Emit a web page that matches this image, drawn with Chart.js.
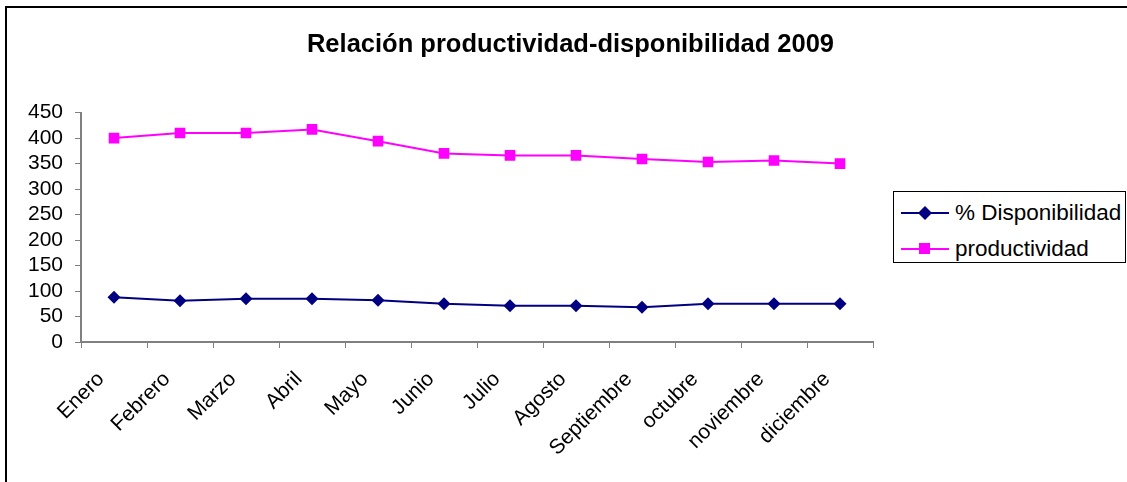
<!DOCTYPE html>
<html>
<head>
<meta charset="utf-8">
<script src="https://cdn.jsdelivr.net/npm/chart.js@4/dist/chart.umd.min.js"></script>
<style>
    body { margin: 0; background: #fff; font-family: "Liberation Sans", Arial, sans-serif; }
    #wrap { position: relative; width: 1127px; height: 482px; overflow: hidden; }
    #frame { position: absolute; left: 5px; top: 6px; width: 1200px; height: 600px; border: 2px solid #000; box-sizing: border-box; }
    #legend { position: absolute; left: 893px; top: 191px; width: 233px; height: 72px; border: 1px solid #000; box-sizing: border-box; background: #fff; }
    .legend-item { position: absolute; left: 7px; height: 20px; display: flex; align-items: center; font-size: 22.5px; color: #000; white-space: nowrap; }
    .legend-item svg { margin-right: 6px; flex: none; }
</style>
</head>
<body>
<div id="wrap">
    <canvas id="chart" width="1127" height="482"></canvas>
    <div id="frame"></div>
    <div id="legend"></div>
</div>
<script>
const months = ['Enero', 'Febrero', 'Marzo', 'Abril', 'Mayo', 'Junio', 'Julio', 'Agosto', 'Septiembre', 'octubre', 'noviembre', 'diciembre'];
const disponibilidad = [88, 81, 85, 85, 82, 75, 71, 71, 68, 75, 75, 75];
const productividad = [400, 410, 410, 417, 394, 370, 366, 366, 359, 353, 356, 350];
const yTicks = [0, 50, 100, 150, 200, 250, 300, 350, 400, 450];

const seriesNames = ['% Disponibilidad', 'productividad'];
const seriesColors = ['#000080', '#FF00FF'];
const seriesMarkers = ['rectRot', 'rect'];

const FONT = '"Liberation Sans", Arial, sans-serif';

const ctx = document.getElementById('chart').getContext('2d');

new Chart(ctx, {
    type: 'line',
    data: {
        labels: months,
        datasets: [
            {
                label: seriesNames[0],
                data: disponibilidad,
                borderColor: seriesColors[0],
                backgroundColor: seriesColors[0],
                borderWidth: 2,
                tension: 0,
                pointStyle: seriesMarkers[0],
                pointRadius: 6.5,
                pointBorderWidth: 0
            },
            {
                label: seriesNames[1],
                data: productividad,
                borderColor: seriesColors[1],
                backgroundColor: seriesColors[1],
                borderWidth: 2,
                tension: 0,
                pointStyle: seriesMarkers[1],
                pointRadius: 7.5,
                pointBorderWidth: 0
            }
        ]
    },
    options: {
        responsive: false,
        animation: false,
        layout: { padding: { left: 14, right: 0, top: 0, bottom: 0 } },
        plugins: {
            legend: { display: false },
            tooltip: { enabled: false },
            title: {
                display: true,
                text: 'Relación productividad-disponibilidad 2009',
                color: '#000',
                font: { family: FONT, size: 25.5, weight: 'bold' },
                padding: { top: 30, bottom: 52 }
            }
        },
        scales: {
            x: {
                offset: true,
                grid: { offset: true, drawOnChartArea: false, drawTicks: true, tickLength: 6, color: '#808080' },
                border: { color: '#808080', width: 2 },
                ticks: {
                    color: '#000',
                    font: { family: FONT, size: 21 },
                    minRotation: 45,
                    maxRotation: 45,
                    autoSkip: false,
                    labelOffset: -13,
                    padding: 19
                },
                afterFit: (scale) => { scale.height = 140; }
            },
            y: {
                min: 0,
                max: 450,
                afterBuildTicks: (scale) => { scale.ticks = yTicks.map(v => ({ value: v })); },
                grid: { drawOnChartArea: false, drawTicks: true, tickLength: 6, color: '#808080' },
                border: { color: '#808080', width: 2 },
                ticks: {
                    color: '#000',
                    font: { family: FONT, size: 21 },
                    autoSkip: false,
                    padding: 12
                },
                afterFit: (scale) => { scale.width = 67; }
            },
            // eje vacio a la derecha: deja sitio para la leyenda
            espacio: {
                type: 'linear',
                position: 'right',
                grid: { display: false },
                border: { display: false },
                ticks: { display: false },
                afterFit: (scale) => { scale.width = 254; }
            }
        }
    }
});

// leyenda en HTML con linea + marcador
const legend = document.getElementById('legend');
const rowTops = [11, 47];
seriesNames.forEach((name, i) => {
    const marker = seriesMarkers[i] === 'rect'
        ? `<rect x="18" y="4" width="11" height="11" fill="${seriesColors[i]}"/>`
        : `<polygon points="24,3 31,10 24,17 17,10" fill="${seriesColors[i]}"/>`;
    const item = document.createElement('div');
    item.className = 'legend-item';
    item.style.top = rowTops[i] + 'px';
    item.innerHTML = `<svg width="48" height="20"><line x1="0" y1="10" x2="48" y2="10" stroke="${seriesColors[i]}" stroke-width="2"/>${marker}</svg><span>${name}</span>`;
    legend.appendChild(item);
});
</script>
</body>
</html>
